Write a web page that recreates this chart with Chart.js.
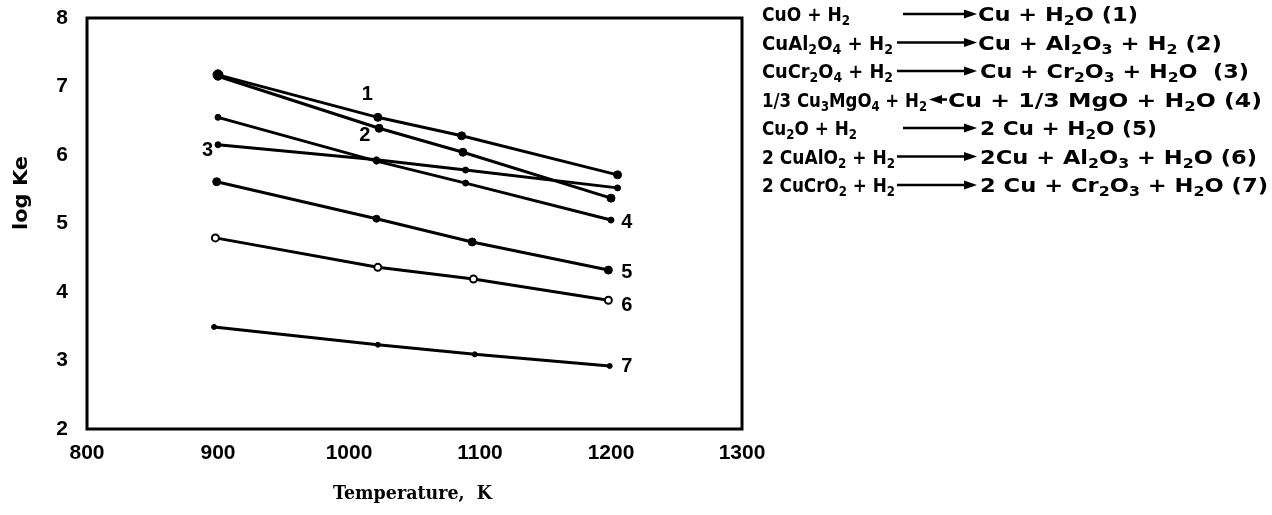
<!DOCTYPE html>
<html>
<head>
<meta charset="utf-8">
<script src="https://cdn.jsdelivr.net/npm/chart.js@4.4.1/dist/chart.umd.min.js"></script>
<style>
  html, body { margin: 0; padding: 0; background: #ffffff; }
  #wrap { width: 1272px; height: 515px; position: relative; }
  canvas { display: block; }
</style>
</head>
<body>
<div id="wrap"><canvas id="chart" width="1272" height="515"></canvas></div>
<script>
// Equilibrium constants (log Ke) of the reduction of copper compounds by H2 versus temperature (K)
const temps1 = [900, 1022, 1086, 1205];
const logKe1 = [7.17, 6.55, 6.28, 5.71];   // CuO
const temps2 = [900, 1023, 1087, 1200];
const logKe2 = [7.15, 6.39, 6.04, 5.37];   // CuAl2O4
const temps3 = [900, 1021, 1089, 1205];
const logKe3 = [6.15, 5.93, 5.78, 5.52];   // CuCr2O4
const temps4 = [900, 1021, 1089, 1200];
const logKe4 = [6.55, 5.91, 5.59, 5.05];   // 1/3 Cu3MgO4
const temps5 = [899, 1021, 1094, 1198];
const logKe5 = [5.61, 5.07, 4.73, 4.32];   // Cu2O
const temps6 = [898, 1022, 1095, 1198];
const logKe6 = [4.79, 4.36, 4.19, 3.88];   // CuAlO2
const temps7 = [897, 1022, 1096, 1199];
const logKe7 = [3.49, 3.23, 3.09, 2.92];   // CuCrO2

const xTicks = [800, 900, 1000, 1100, 1200, 1300];
const yTicks = [2, 3, 4, 5, 6, 7, 8];

// Curve numbers, anchored in data space next to each curve
const curveTags = ["1", "2", "3", "4", "5", "6", "7"];
const curveTagT = [1014, 1012, 892, 1212, 1212, 1212, 1212];
const curveTagV = [6.88, 6.29, 6.07, 5.02, 4.28, 3.81, 2.91];

// Reaction equations ("_" marks the next character as a subscript)
const reactLeft = [
  "CuO + H_2", "CuAl_2O_4 + H_2", "CuCr_2O_4 + H_2", "1/3 Cu_3MgO_4 + H_2",
  "Cu_2O + H_2", "2 CuAlO_2 + H_2", "2 CuCrO_2 + H_2"
];
const reactRight = [
  "Cu + H_2O (1)", "Cu + Al_2O_3 + H_2 (2)", "Cu + Cr_2O_3 + H_2O  (3)",
  "Cu + 1/3 MgO + H_2O (4)", "2 Cu + H_2O (5)", "2Cu + Al_2O_3 + H_2O (6)",
  "2 Cu + Cr_2O_3 + H_2O (7)"
];

const pts = (xs, ys) => xs.map((x, i) => ({ x: x, y: ys[i] }));

function series(xs, ys, style) {
  return Object.assign({
    data: pts(xs, ys),
    borderColor: '#000',
    backgroundColor: '#000',
    borderWidth: 3,
    pointBorderColor: '#000',
    pointBackgroundColor: '#000',
    pointRadius: 3.5,
    pointBorderWidth: 1,
    tension: 0,
    fill: false
  }, style);
}

// ---- text helpers ----
function richSegments(str) {
  const segs = [];
  let cur = '';
  for (let i = 0; i < str.length; i++) {
    if (str[i] === '_' && i + 1 < str.length) {
      if (cur) segs.push({ t: cur, sub: false });
      cur = '';
      segs.push({ t: str[i + 1], sub: true });
      i++;
    } else {
      cur += str[i];
    }
  }
  if (cur) segs.push({ t: cur, sub: false });
  return segs;
}

function drawRich(ctx, str, x, baseline, targetW, size, family) {
  const segs = richSegments(str);
  const big = 'bold ' + size + 'px ' + family;
  const small = 'bold ' + Math.round(size * 0.72) + 'px ' + family;
  let w = 0;
  segs.forEach(s => { ctx.font = s.sub ? small : big; s.w = ctx.measureText(s.t).width; w += s.w; });
  const k = targetW ? targetW / w : 1;
  ctx.save();
  ctx.translate(x, baseline);
  ctx.scale(k, 1);
  ctx.textAlign = 'left';
  ctx.textBaseline = 'alphabetic';
  let cx = 0;
  segs.forEach(s => {
    ctx.font = s.sub ? small : big;
    ctx.fillText(s.t, cx, s.sub ? size * 0.22 : 0);
    cx += s.w;
  });
  ctx.restore();
}

function arrow(ctx, x0, x1, y, leftward) {
  ctx.save();
  ctx.strokeStyle = '#000';
  ctx.fillStyle = '#000';
  ctx.lineWidth = 2.5;
  const head = 13;
  ctx.beginPath();
  if (leftward) {
    ctx.moveTo(x0 + head - 2, y); ctx.lineTo(x1, y);
  } else {
    ctx.moveTo(x0, y); ctx.lineTo(x1 - head + 2, y);
  }
  ctx.stroke();
  ctx.beginPath();
  if (leftward) {
    ctx.moveTo(x0, y); ctx.lineTo(x0 + head, y - 4.5); ctx.lineTo(x0 + head, y + 4.5);
  } else {
    ctx.moveTo(x1, y); ctx.lineTo(x1 - head, y - 4.5); ctx.lineTo(x1 - head, y + 4.5);
  }
  ctx.closePath();
  ctx.fill();
  ctx.restore();
}

// Frame, curve numbers, axis titles and reaction list
const decorations = {
  id: 'decorations',
  afterDatasetsDraw(chart) {
    const ctx = chart.ctx;
    const a = chart.chartArea;
    const xs = chart.scales.x, ys = chart.scales.y;

    ctx.save();
    ctx.strokeStyle = '#000';
    ctx.lineWidth = 3;
    ctx.strokeRect(a.left, a.top, a.right - a.left, a.bottom - a.top);

    ctx.fillStyle = '#000';
    ctx.font = 'bold 20px "Liberation Sans", Arial, sans-serif';
    ctx.textAlign = 'center';
    ctx.textBaseline = 'middle';
    curveTags.forEach((t, i) => {
      ctx.fillText(t, xs.getPixelForValue(curveTagT[i]), ys.getPixelForValue(curveTagV[i]));
    });

    // y title
    ctx.save();
    ctx.translate(27, 193);
    ctx.rotate(-Math.PI / 2);
    drawRich(ctx, 'log Ke', -37, 0, 74, 20, '"DejaVu Sans", sans-serif');
    ctx.restore();

    // x title
    drawRich(ctx, 'Temperature,  K', 333, 499, 159, 18, '"DejaVu Serif", serif');

    // reaction equations
    const baselines = [21, 49.5, 78, 106.5, 135, 163.5, 192];
    const leftW = [88, 131, 131, 165, 95, 133, 133];
    const arrows = [[903, 977, false], [897, 977, false], [897, 977, false], [929, 947, true],
                    [903, 977, false], [897, 977, false], [897, 977, false]];
    const rightX = [978, 978, 980, 948, 980, 980, 980];
    const rightEnd = [1138, 1222, 1249, 1262, 1157, 1257, 1268];
    const fam = '"DejaVu Sans", sans-serif';
    for (let i = 0; i < reactLeft.length; i++) {
      const b = baselines[i];
      drawRich(ctx, reactLeft[i], 762, b, leftW[i], 20, fam);
      arrow(ctx, arrows[i][0], arrows[i][1], b - 7, arrows[i][2]);
      drawRich(ctx, reactRight[i], rightX[i], b, rightEnd[i] - rightX[i], 20, fam);
    }
    ctx.restore();
  }
};

const tickFont = { family: '"Liberation Sans", Arial, sans-serif', size: 21, weight: 'bold' };

new Chart(document.getElementById('chart'), {
  type: 'line',
  data: {
    datasets: [
      series(temps1, logKe1, { pointRadius: [5, 4, 4, 4] }),
      series(temps2, logKe2, { pointRadius: [4, 4, 4, 4] }),
      series(temps3, logKe3, { pointRadius: 3 }),
      series(temps4, logKe4, { pointRadius: 3 }),
      series(temps5, logKe5, { pointRadius: [4, 3.5, 4, 4] }),
      series(temps6, logKe6, { pointRadius: 3.5, pointBackgroundColor: '#fff', pointBorderWidth: 2 }),
      series(temps7, logKe7, { pointRadius: 2.5 })
    ]
  },
  options: {
    responsive: false,
    animation: false,
    devicePixelRatio: 1,
    layout: { padding: { left: 0, top: 18, right: 530, bottom: 0 } },
    plugins: { legend: { display: false }, tooltip: { enabled: false } },
    scales: {
      x: {
        type: 'linear',
        min: 800, max: 1300,
        afterFit(s) { s.height = 86; s.paddingLeft = 0; s.paddingRight = 0; },
        afterBuildTicks(s) { s.ticks = xTicks.map(v => ({ value: v })); },
        grid: { display: false, drawTicks: false },
        border: { display: false },
        ticks: { color: '#000', font: tickFont, padding: 12, maxRotation: 0, autoSkip: false,
                 callback: v => String(v) }
      },
      y: {
        type: 'linear',
        min: 2, max: 8,
        afterFit(s) { s.width = 87; s.paddingTop = 0; s.paddingBottom = 0; },
        afterBuildTicks(s) { s.ticks = yTicks.map(v => ({ value: v })); },
        grid: { display: false, drawTicks: false },
        border: { display: false },
        ticks: { color: '#000', font: tickFont, padding: 19, autoSkip: false,
                 callback: v => String(v) }
      }
    }
  },
  plugins: [decorations]
});
</script>
</body>
</html>
